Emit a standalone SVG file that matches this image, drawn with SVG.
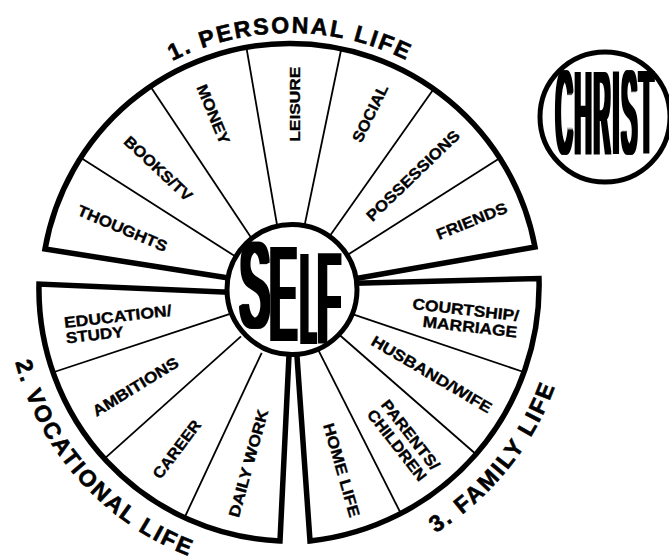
<svg xmlns="http://www.w3.org/2000/svg" width="669" height="557" viewBox="0 0 669 557">
<style>
.sec{fill:#fff;stroke:#000;stroke-width:5.5;stroke-linejoin:miter;stroke-miterlimit:10}
.dv{stroke:#000;stroke-width:1.8;fill:none}
.lb{font-family:"Liberation Sans",Arial,Helvetica,sans-serif;font-weight:bold;font-size:15.5px;fill:#000;stroke:#000;stroke-width:0.35;text-anchor:middle}
.ls{text-anchor:start}
.le{text-anchor:end}
.tt{font-family:"Liberation Sans",Arial,Helvetica,sans-serif;font-weight:bold;font-size:23px;letter-spacing:2.2px;fill:#000;stroke:#000;stroke-width:0.6}
.bg{font-family:"Liberation Sans",Arial,Helvetica,sans-serif;font-weight:normal;font-size:40px;fill:#000}
.ring{fill:#fff;stroke:#000;stroke-width:5}
</style>
<defs>
<path id="pP" d="M 28,295 A 262 262 0 0 1 552,295"/>
<path id="pV" d="M 23.2,192.5 A 285 285 0 0 0 359.9,566.5"/>
<path id="pF" d="M 231.5,572.6 A 291 291 0 0 0 551.8,177"/>
<filter id="fat" x="-10%" y="-10%" width="120%" height="120%" color-interpolation-filters="sRGB">
<feMorphology operator="dilate" radius="3 0.5"/>
</filter>
<filter id="fat2" x="-10%" y="-10%" width="120%" height="120%" color-interpolation-filters="sRGB">
<feMorphology operator="dilate" radius="2 0.5"/>
</filter>
</defs>
<rect width="669" height="557" fill="#fff"/>
<g id="sectors">
<g id="personal-life"><path class="sec" d="M235,279 L45,249 A249,249 0 0 1 535,247 L345,280.5 Z"/></g>
<g id="vocational-life"><path class="sec" d="M235,292.5 L39,284 A252,252 0 0 0 280,541 L289.5,345 Z"/></g>
<g id="family-life"><path class="sec" d="M345,283.4 L539,278.5 A257,257 0 0 1 310,541 L296.2,345 Z"/></g>
</g>
<g id="connectors">
<line class="dv" x1="79.6" y1="157" x2="236.7" y2="257.3"/>
<line class="dv" x1="150.3" y1="86.2" x2="252.7" y2="240"/>
<line class="dv" x1="246.3" y1="46.8" x2="278.1" y2="231.2"/>
<line class="dv" x1="341.2" y1="49.3" x2="303.4" y2="231.1"/>
<line class="dv" x1="433.1" y1="89.7" x2="327.1" y2="239.8"/>
<line class="dv" x1="498.8" y1="158.7" x2="343.3" y2="257.6"/>
<line class="dv" x1="52.6" y1="372.5" x2="229.3" y2="314.2"/>
<line class="dv" x1="104.8" y1="458.4" x2="241" y2="336.4"/>
<line class="dv" x1="183.9" y1="519" x2="261.7" y2="352.8"/>
<line class="dv" x1="525.1" y1="372.5" x2="352.4" y2="314.1"/>
<line class="dv" x1="476.9" y1="455" x2="337.3" y2="333"/>
<line class="dv" x1="401.1" y1="514" x2="318.1" y2="349.6"/>
</g>
<g id="thoughts"><text class="lb" transform="translate(122.5 228.3) rotate(23)" y="5.5" textLength="96" lengthAdjust="spacingAndGlyphs">THOUGHTS</text></g>
<g id="books-tv"><text class="lb" transform="translate(158.3 168.3) rotate(43)" y="5.5" textLength="87" lengthAdjust="spacingAndGlyphs">BOOKS/TV</text></g>
<g id="money"><text class="lb" transform="translate(213.3 114.2) rotate(67.5)" y="5.5" textLength="63" lengthAdjust="spacingAndGlyphs">MONEY</text></g>
<g id="leisure"><text class="lb" transform="translate(294.2 104.2) rotate(-90)" y="5.5" textLength="75" lengthAdjust="spacingAndGlyphs">LEISURE</text></g>
<g id="social"><text class="lb" transform="translate(370 113.3) rotate(-64)" y="5.5" textLength="62" lengthAdjust="spacingAndGlyphs">SOCIAL</text></g>
<g id="possessions"><text class="lb" transform="translate(412.8 175.5) rotate(-44)" y="5.5" textLength="123" lengthAdjust="spacingAndGlyphs">POSSESSIONS</text></g>
<g id="friends"><text class="lb" transform="translate(471.7 220.8) rotate(-22)" y="5.5" textLength="75" lengthAdjust="spacingAndGlyphs">FRIENDS</text></g>
<g id="education-study" transform="translate(64.7 328) rotate(-6.5)">
<text class="lb ls" x="0" y="0" textLength="108" lengthAdjust="spacingAndGlyphs">EDUCATION/</text>
<text class="lb ls" x="0" y="15.5" textLength="58" lengthAdjust="spacingAndGlyphs">STUDY</text>
</g>
<g id="ambitions"><text class="lb" transform="translate(135.3 386.7) rotate(-31.5)" y="5.5" textLength="98" lengthAdjust="spacingAndGlyphs">AMBITIONS</text></g>
<g id="career"><text class="lb" transform="translate(176.7 449.2) rotate(-53)" y="5.5" textLength="69" lengthAdjust="spacingAndGlyphs">CAREER</text></g>
<g id="daily-work"><text class="lb" transform="translate(248.3 463.3) rotate(-74.5)" y="5.5" textLength="111" lengthAdjust="spacingAndGlyphs">DAILY WORK</text></g>
<g id="courtship-marriage" transform="translate(518.4 321.2) rotate(6.5)">
<text class="lb le" x="0" y="0" textLength="107" lengthAdjust="spacingAndGlyphs">COURTSHIP/</text>
<text class="lb le" x="0" y="16.5" textLength="95" lengthAdjust="spacingAndGlyphs">MARRIAGE</text>
</g>
<g id="husband-wife"><text class="lb" transform="translate(431.7 374.2) rotate(30.5)" y="5.5" textLength="137" lengthAdjust="spacingAndGlyphs">HUSBAND/WIFE</text></g>
<g id="parents-children" transform="translate(403.8 440) rotate(52)">
<text class="lb" x="0" y="-3" textLength="84" lengthAdjust="spacingAndGlyphs">PARENTS/</text>
<text class="lb" x="0" y="14" textLength="86" lengthAdjust="spacingAndGlyphs">CHILDREN</text>
</g>
<g id="home-life"><text class="lb" transform="translate(341.7 470) rotate(74)" y="5.5" textLength="97" lengthAdjust="spacingAndGlyphs">HOME LIFE</text></g>
<g id="self">
<circle class="ring" cx="292" cy="289.5" r="65"/>
<g filter="url(#fat)">
<text class="bg" transform="translate(240 326.5) scale(1.106 3.0)">S</text>
<text class="bg" transform="translate(269.9 339.5) scale(0.986 3.35)">E</text>
<text class="bg" transform="translate(301.2 342.5) scale(0.618 3.21)">L</text>
<text class="bg" transform="translate(318 342.5) scale(0.895 3.21)">F</text>
</g>
</g>
<g id="christ">
<circle class="ring" cx="605" cy="117" r="65"/>
<g filter="url(#fat2)">
<text class="bg" style="font-size:30px;letter-spacing:3px" transform="translate(555.8 152.5) scale(0.771 3.9)">CHRIST</text>
</g>
</g>
<g id="titles">
<text class="tt"><textPath href="#pP" startOffset="50%" text-anchor="middle">1. PERSONAL LIFE</textPath></text>
<text class="tt"><textPath href="#pV" startOffset="50%" text-anchor="middle">2. VOCATIONAL LIFE</textPath></text>
<text class="tt"><textPath href="#pF" startOffset="50%" text-anchor="middle">3. FAMILY LIFE</textPath></text>
</g>
</svg>
